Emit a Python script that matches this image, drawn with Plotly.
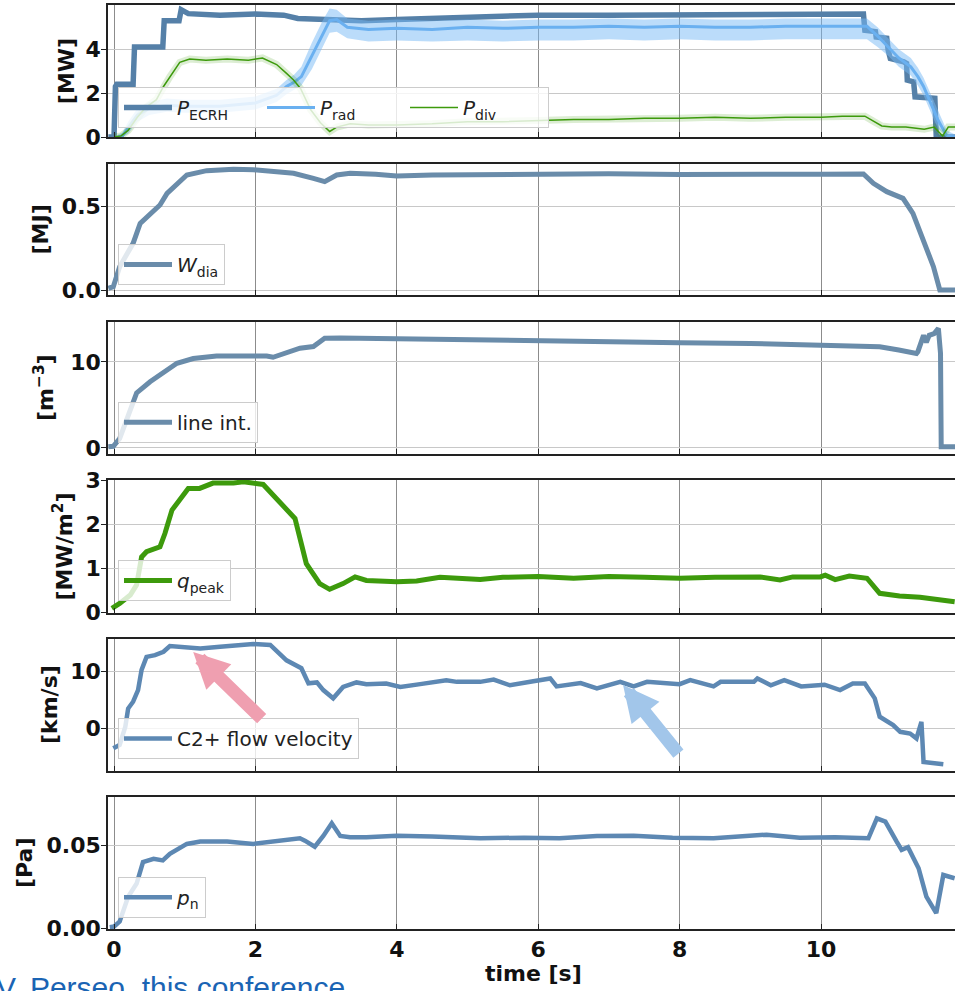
import plotly.graph_objects as go

# ---------------- data ----------------
# Panel 1: powers [MW]
t_ecrh = [-0.08, 0.0, 0.02, 0.04, 0.27, 0.29, 0.69, 0.71, 0.92, 0.95, 1.05, 1.5, 2.0, 2.4, 2.6,
          3.0, 3.5, 4.0, 4.5, 5.0, 5.5, 6.0, 7.0, 8.0, 9.0, 10.0, 10.6, 10.62, 10.77, 10.78,
          10.93, 10.95, 10.98, 11.17, 11.21, 11.22, 11.31, 11.33, 11.61, 11.63, 11.9]
p_ecrh = [0.0, 0.0, 2.3, 2.4, 2.4, 4.1, 4.1, 5.3, 5.3, 5.8, 5.62, 5.55, 5.6, 5.55, 5.4,
          5.35, 5.3, 5.35, 5.4, 5.5, 5.5, 5.55, 5.55, 5.55, 5.55, 5.6, 5.6, 4.86, 4.8, 4.56,
          4.5, 3.95, 3.58, 3.42, 3.35, 2.59, 2.51, 1.83, 1.76, 0.0, 0.0]

t_rad = [0.05, 0.12, 0.2, 0.33, 0.5, 0.75, 1.0, 1.5, 2.0, 2.3, 2.44, 2.55, 2.65, 2.8, 2.95,
         3.05, 3.15, 3.3, 3.6, 4.0, 4.5, 5.0, 5.5, 6.0, 6.5, 7.0, 7.5, 8.0, 8.5, 9.0, 9.5,
         10.0, 10.65, 10.8, 10.95, 11.1, 11.27, 11.37, 11.45, 11.53, 11.65, 11.78, 11.9]
p_rad = [0.0, 0.05, 0.4, 1.0, 1.3, 1.45, 1.4, 1.4, 1.55, 1.9, 2.3, 2.5, 2.75, 3.7, 4.7,
         5.3, 5.35, 5.0, 4.9, 4.95, 4.9, 5.0, 4.95, 5.0, 5.0, 5.05, 5.0, 5.05, 5.0, 5.0, 5.05,
         5.05, 5.05, 4.6, 4.1, 3.6, 3.2, 2.75, 2.3, 1.7, 0.8, 0.05, 0.0]
p_rad_hi = [0.1, 0.2, 0.7, 1.3, 1.6, 1.75, 1.7, 1.7, 1.85, 2.2, 2.6, 2.85, 3.2, 4.3, 5.3,
            5.85, 5.8, 5.4, 5.3, 5.35, 5.3, 5.35, 5.3, 5.35, 5.35, 5.4, 5.35, 5.4, 5.35, 5.35, 5.4,
            5.4, 5.4, 5.0, 4.5, 4.0, 3.6, 3.15, 2.7, 2.1, 1.2, 0.3, 0.1]
p_rad_lo = [0.0, 0.0, 0.15, 0.7, 1.0, 1.15, 1.1, 1.1, 1.25, 1.6, 1.95, 2.15, 2.35, 3.1, 4.1,
            4.75, 4.8, 4.5, 4.35, 4.4, 4.35, 4.4, 4.35, 4.4, 4.4, 4.45, 4.4, 4.45, 4.4, 4.4, 4.45,
            4.45, 4.45, 4.1, 3.7, 3.2, 2.8, 2.35, 1.9, 1.3, 0.4, 0.0, 0.0]

t_div = [0.0, 0.1, 0.2, 0.33, 0.45, 0.6, 0.7, 0.79, 0.93, 1.07, 1.3, 1.6, 1.9, 2.1, 2.3,
         2.44, 2.54, 2.64, 2.78, 2.92, 3.05, 3.15, 3.34, 3.6, 4.0, 4.5, 5.0, 5.5, 6.0, 6.5,
         7.0, 7.5, 8.0, 8.5, 9.0, 9.5, 10.0, 10.3, 10.62, 10.75, 10.86, 11.0, 11.2, 11.46,
         11.6, 11.72, 11.8, 11.9]
p_div = [0.0, 0.05, 0.3, 0.9, 1.35, 1.7, 2.3, 2.75, 3.4, 3.55, 3.5, 3.55, 3.5, 3.6, 3.3,
         2.9, 2.6, 2.2, 1.25, 0.65, 0.25, 0.45, 0.6, 0.55, 0.55, 0.6, 0.7, 0.7, 0.75, 0.8,
         0.8, 0.85, 0.85, 0.9, 0.85, 0.9, 0.9, 0.95, 0.95, 0.7, 0.5, 0.45, 0.45, 0.35,
         0.45, 0.05, 0.45, 0.45]

# Panel 2: diamagnetic energy [MJ]
t_wdia = [-0.08, -0.01, 0.08, 0.18, 0.27, 0.37, 0.51, 0.65, 0.75, 0.89, 1.03, 1.31, 1.69,
          1.97, 2.3, 2.54, 2.82, 2.98, 3.15, 3.34, 3.7, 4.0, 4.5, 5.2, 6.0, 7.0, 8.0, 9.14,
          10.0, 10.6, 10.74, 10.93, 11.16, 11.3, 11.45, 11.59, 11.68, 11.9]
w_dia = [0.01, 0.02, 0.14, 0.22, 0.28, 0.40, 0.46, 0.51, 0.58, 0.64, 0.69, 0.716, 0.724,
         0.722, 0.705, 0.70, 0.67, 0.65, 0.69, 0.70, 0.695, 0.684, 0.69, 0.694, 0.695, 0.697,
         0.693, 0.69, 0.695, 0.696, 0.64, 0.59, 0.55, 0.46, 0.30, 0.14, 0.0, 0.0]

# Panel 3: line integrated density [m^-3]
t_ne = [-0.08, -0.01, 0.08, 0.18, 0.32, 0.51, 0.70, 0.89, 1.12, 1.45, 1.8, 2.16, 2.25, 2.49,
        2.63, 2.82, 2.9, 2.98, 3.2, 3.57, 4.0, 5.18, 6.0, 7.0, 8.0, 9.0, 9.99, 10.5, 10.83,
        11.1, 11.35, 11.37, 11.45, 11.49, 11.53, 11.6, 11.66, 11.69, 11.70, 11.9]
ne_int = [0.15, 0.2, 1.1, 3.3, 6.4, 7.7, 8.7, 9.85, 10.4, 10.7, 10.7, 10.7, 10.55, 11.2,
          11.6, 11.8, 12.2, 12.75, 12.8, 12.75, 12.7, 12.5, 12.4, 12.35, 12.25, 12.15, 12.0,
          11.95, 11.78, 11.4, 11.0, 11.2, 13.1, 12.3, 13.1, 13.3, 13.9, 11.0, 0.15, 0.15]

# Panel 4: peak heat flux [MW/m^2]
t_q = [-0.03, 0.08, 0.23, 0.32, 0.39, 0.46, 0.65, 0.72, 0.82, 0.93, 1.05, 1.21, 1.4, 1.69,
       1.83, 2.11, 2.3, 2.56, 2.72, 2.91, 3.05, 3.24, 3.41, 3.57, 4.0, 4.28, 4.61, 5.18, 5.5,
       6.0, 6.5, 7.0, 7.5, 8.0, 8.5, 9.14, 9.42, 9.6, 9.99, 10.06, 10.2, 10.4, 10.65, 10.83,
       11.11, 11.4, 11.89]
q_peak = [0.1, 0.21, 0.40, 0.63, 1.26, 1.38, 1.49, 1.79, 2.32, 2.54, 2.81, 2.81, 2.93, 2.93,
          2.96, 2.9, 2.58, 2.13, 1.11, 0.66, 0.53, 0.66, 0.81, 0.73, 0.70, 0.72, 0.8, 0.75,
          0.8, 0.82, 0.78, 0.82, 0.8, 0.78, 0.8, 0.81, 0.74, 0.81, 0.81, 0.85, 0.75, 0.83,
          0.78, 0.44, 0.38, 0.35, 0.25]

# Panel 5: C2+ flow velocity [km/s]
t_v = [-0.01, 0.08, 0.16, 0.2, 0.27, 0.34, 0.39, 0.46, 0.58, 0.70, 0.79, 1.02, 1.22, 1.5,
       1.97, 2.21, 2.44, 2.65, 2.75, 2.87, 2.96, 3.1, 3.24, 3.43, 3.57, 3.85, 4.05, 4.33, 4.7,
       4.85, 5.18, 5.37, 5.6, 5.93, 6.17, 6.26, 6.6, 6.83, 7.16, 7.35, 7.54, 8.0, 8.15, 8.48,
       8.58, 9.05, 9.1, 9.29, 9.48, 9.72, 10.05, 10.27, 10.45, 10.62, 10.76, 10.83, 11.02,
       11.12, 11.26, 11.35, 11.42, 11.45, 11.59, 11.73]
v_c2 = [-3.5, -2.9, 0.3, 3.5, 4.7, 6.75, 10.3, 12.6, 12.9, 13.5, 14.5, 14.3, 14.1, 14.4,
        14.87, 14.7, 12.0, 10.6, 7.94, 8.1, 6.75, 5.3, 7.3, 8.1, 7.8, 7.9, 7.3, 7.8, 8.5,
        8.2, 8.2, 8.6, 7.6, 8.3, 8.8, 7.4, 8.0, 7.06, 8.2, 7.4, 8.2, 7.8, 8.5, 7.4,
        8.2, 8.2, 8.8, 7.6, 8.5, 7.4, 7.7, 6.76, 7.9, 7.9, 5.3, 2.05, 0.6,
        -0.6, -0.9, -1.76, 1.17, -5.9, -6.1, -6.3]

# Panel 6: neutral pressure [Pa]
t_pn = [-0.06, 0.0, 0.08, 0.2, 0.32, 0.41, 0.56, 0.69, 0.79, 1.03, 1.22, 1.6, 1.97, 2.3,
        2.63, 2.7, 2.84, 2.96, 3.08, 3.2, 3.34, 3.57, 4.0, 4.5, 5.18, 5.8, 6.3, 6.83, 7.35,
        7.9, 8.48, 9.23, 9.7, 10.2, 10.67, 10.79, 10.91, 11.07, 11.14, 11.23, 11.38, 11.49,
        11.63, 11.73, 11.89]
p_n = [0.0006, 0.001, 0.004, 0.019, 0.027, 0.040, 0.042, 0.041, 0.045, 0.051, 0.0525,
       0.0525, 0.051, 0.0525, 0.0544, 0.053, 0.0493, 0.0558, 0.0635, 0.0558, 0.0551, 0.0551,
       0.056, 0.0555, 0.0544, 0.0548, 0.0545, 0.0558, 0.056, 0.0548, 0.0544, 0.0566, 0.0548,
       0.055, 0.0544, 0.0665, 0.0645, 0.0524, 0.0474, 0.049, 0.0363, 0.0191, 0.0091, 0.0322,
       0.0302]

# axis ticks / labels
y_tickvals = [[0, 2, 4], [0, 0.5], [0, 10], [0, 1, 2, 3], [0, 10], [0, 0.05]]
y_ticktext = [["0", "2", "4"], ["0.0", "0.5"], ["0", "10"], ["0", "1", "2", "3"],
              ["0", "10"], ["0.00", "0.05"]]
y_titles = ["[MW]", "[MJ]", "[m<sup>\u22123</sup>]", "[MW/m<sup>2</sup>]", "[km/s]", "[Pa]"]
x_tickvals = [0, 2, 4, 6, 8, 10]
x_ticktext = ["0", "2", "4", "6", "8", "10"]

# ---------------- layout geometry (pixels) ----------------
W, H = 955, 991
panel_px = [(5.3, 137), (164, 295), (322, 454), (480, 613), (639, 771), (797, 929)]
y_ranges = [[0, 6.0], [-0.03, 0.756], [-0.7, 14.65], [-0.005, 3.0], [-7.5, 15.75],
            [-0.0005, 0.0794]]
x_range = [-0.085, 11.895]
x_left_px = 108
ytitle_x_px = [66, 40, 44, 62, 49, 24]
legend_box = [(118, 128), (118, 285), (118, 442.7), (118, 601), (118, 759), (118, 917.7)]

C_ECRH = "#5580a8"
C_W = "#6a8caa"
C_BLUE = "#5d88b3"
C_GREEN = "#3d9a0c"
C_RAD = "#6ab0f0"

fig = go.Figure()
TF = dict(family="DejaVu Sans", size=22, color="#111")


def ax(i):
    return ("x" if i == 1 else f"x{i}"), ("y" if i == 1 else f"y{i}")


def leg(i):
    return "legend" if i == 1 else f"legend{i}"

# Panel 1
xa, ya = ax(1)
fig.add_trace(go.Scatter(x=t_ecrh, y=p_ecrh, mode="lines", name="<i>P</i><sub>ECRH</sub>",
                         line=dict(color=C_ECRH, width=5.5), xaxis=xa, yaxis=ya, legend=leg(1)))
fig.add_trace(go.Scatter(x=t_rad, y=p_rad_hi, mode="lines", line=dict(width=0, color=C_RAD),
                         showlegend=False, xaxis=xa, yaxis=ya, hoverinfo="skip"))
fig.add_trace(go.Scatter(x=t_rad, y=p_rad_lo, mode="lines", line=dict(width=0, color=C_RAD),
                         fill="tonexty", fillcolor="rgba(120,185,245,0.5)",
                         showlegend=False, xaxis=xa, yaxis=ya, hoverinfo="skip"))
fig.add_trace(go.Scatter(x=t_rad, y=p_rad, mode="lines", name="<i>P</i><sub>rad</sub>",
                         line=dict(color=C_RAD, width=3), xaxis=xa, yaxis=ya, legend=leg(1)))
fig.add_trace(go.Scatter(x=t_div, y=p_div, mode="lines", line=dict(color="rgba(61,154,12,0.18)", width=7),
                         showlegend=False, xaxis=xa, yaxis=ya, hoverinfo="skip"))
fig.add_trace(go.Scatter(x=t_div, y=p_div, mode="lines", name="<i>P</i><sub>div</sub>",
                         line=dict(color=C_GREEN, width=1.5), xaxis=xa, yaxis=ya, legend=leg(1)))

series = [
    (2, t_wdia, w_dia, "<i>W</i><sub>dia</sub>", C_W, 5),
    (3, t_ne, ne_int, "line int.", C_W, 5),
    (4, t_q, q_peak, "<i>q</i><sub>peak</sub>", C_GREEN, 5),
    (5, t_v, v_c2, "C2+ flow velocity", C_BLUE, 4.5),
    (6, t_pn, p_n, "<i>p</i><sub>n</sub>", C_BLUE, 4.5),
]
for i, tx, vy, nm, col, lw in series:
    xa, ya = ax(i)
    fig.add_trace(go.Scatter(x=tx, y=vy, mode="lines", name=nm, line=dict(color=col, width=lw),
                             xaxis=xa, yaxis=ya, legend=leg(i)))

layout = dict(width=W, height=H, margin=dict(l=0, r=0, t=0, b=0, pad=0),
              paper_bgcolor="white", plot_bgcolor="white", showlegend=True)
annotations = []
for i in range(1, 7):
    top, bot = panel_px[i - 1]
    dom_y = [1 - bot / H, 1 - top / H]
    xk = "xaxis" if i == 1 else f"xaxis{i}"
    yk = "yaxis" if i == 1 else f"yaxis{i}"
    layout[xk] = dict(domain=[x_left_px / W, 1.0], range=x_range, anchor=ax(i)[1],
                      tickvals=x_tickvals, ticktext=x_ticktext, showticklabels=(i == 6),
                      ticks="inside", ticklen=5, tickcolor="#222", showgrid=True,
                      gridcolor="#8c8c8c", gridwidth=1, zeroline=False, showline=True,
                      linecolor="#222", linewidth=1.5, mirror=True, automargin=False,
                      tickfont=dict(TF, weight="bold"),
                      matches=None if i == 1 else "x")
    layout[yk] = dict(domain=dom_y, range=y_ranges[i - 1], anchor=ax(i)[0],
                      tickvals=y_tickvals[i - 1], ticktext=y_ticktext[i - 1],
                      ticks="outside", ticklen=5, tickcolor="#222", showgrid=True,
                      gridcolor="#c8c8c8", gridwidth=1.3, zeroline=False, showline=True,
                      linecolor="#222", linewidth=1.5, mirror=True, automargin=False,
                      ticklabelstandoff=-4,
                      tickfont=dict(TF, weight="bold"))
    lx, lb = legend_box[i - 1]
    layout[leg(i)] = dict(x=lx / W, y=1 - lb / H, xanchor="left", yanchor="bottom",
                          bgcolor="rgba(255,255,255,0.8)", bordercolor="#cccccc", borderwidth=1,
                          font=dict(family="DejaVu Sans", size=20, color="#222"),
                          orientation="h" if i == 1 else "v", itemwidth=48,
                          traceorder="normal",
                          entrywidth=80 if i == 1 else None)
    annotations.append(dict(text=y_titles[i - 1], xref="paper", yref="paper",
                            x=ytitle_x_px[i - 1] / W, y=(dom_y[0] + dom_y[1]) / 2,
                            xanchor="center", yanchor="middle", textangle=-90, showarrow=False,
                            font=dict(TF, weight="bold")))

annotations.append(dict(text="time [s]", xref="paper", yref="paper", x=533 / W, y=1 - 973 / H,
                        xanchor="center", yanchor="middle", showarrow=False,
                        font=dict(TF, weight="bold")))
annotations.append(dict(text="V. Perseo, this conference", xref="paper", yref="paper",
                        x=-6 / W, y=1 - 969 / H, xanchor="left", yanchor="top", showarrow=False,
                        font=dict(family="Liberation Sans", size=30, color="#1a64b4")))
# arrows in panel 5
annotations.append(dict(x=1.12, y=13.46, ax=2.11, ay=1.46, xref="x5", yref="y5", axref="x5",
                        ayref="y5", showarrow=True, arrowhead=2, arrowwidth=13, arrowsize=0.55,
                        arrowcolor="#ef9fb0", text=""))
annotations.append(dict(x=7.2, y=7.64, ax=8.0, ay=-4.7, xref="x5", yref="y5", axref="x5",
                        ayref="y5", showarrow=True, arrowhead=2, arrowwidth=13, arrowsize=0.55,
                        arrowcolor="#a2c6ea", text=""))
layout["annotations"] = annotations
fig.update_layout(**layout)
fig.write_html("out.html", config={"displayModeBar": False},
               post_script="document.body.style.margin='0px';")
